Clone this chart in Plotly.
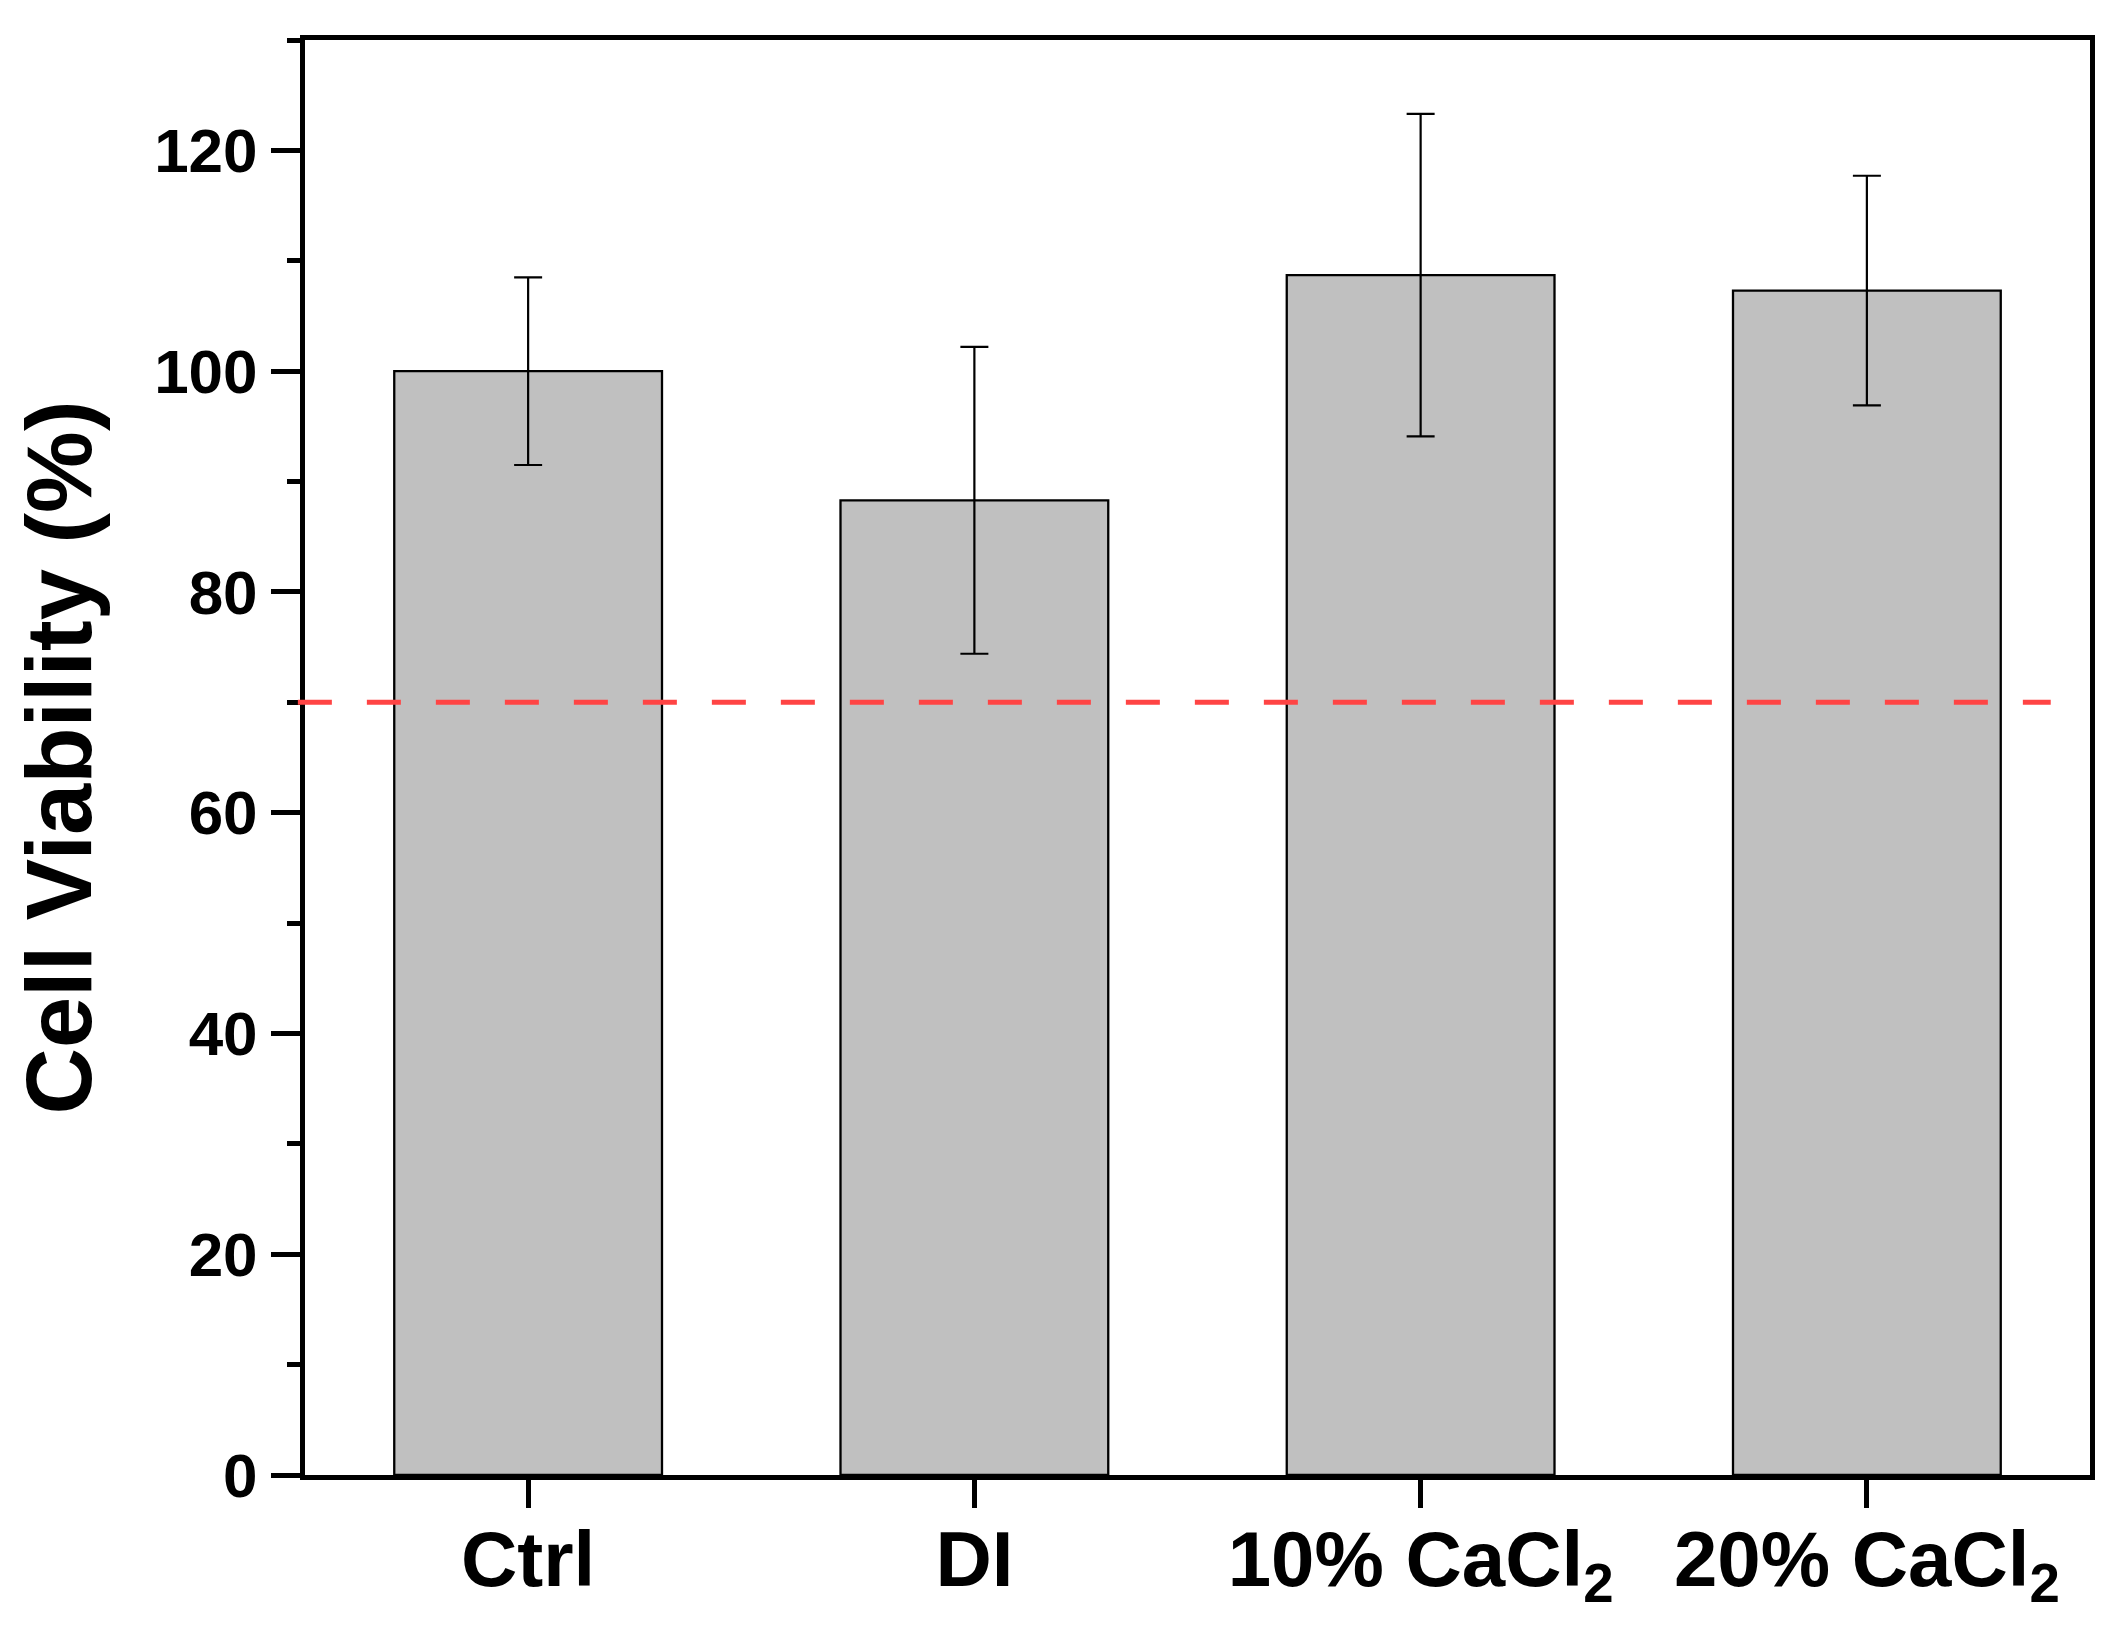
import plotly.graph_objects as go

categories = ["Ctrl", "DI", "10% CaCl<sub>2</sub>", "20% CaCl<sub>2</sub>"]
viability = [100.0, 88.3, 108.7, 107.3]
errors = [8.5, 13.9, 14.6, 10.4]
threshold = 70
y_ticks = [0, 20, 40, 60, 80, 100, 120]

FONT = "Liberation Sans, Arial, sans-serif"

fig = go.Figure()
fig.add_trace(go.Bar(
    x=list(range(len(categories))),
    y=viability,
    width=0.6,
    marker=dict(color="#c0c0c0", line=dict(color="black", width=2.3)),
    error_y=dict(type="data", array=errors, visible=True,
                 color="black", thickness=2.2, width=14),
    showlegend=False,
))

fig.add_shape(type="line", xref="paper", yref="y",
              x0=-0.004, x1=0.978, y0=threshold, y1=threshold,
              line=dict(color="#ff4444", width=5, dash="34px,35px"),
              layer="above")

fig.update_layout(
    width=2114, height=1640,
    margin=dict(l=297, r=32, t=32, b=173, autoexpand=False),
    paper_bgcolor="white", plot_bgcolor="white",
    font=dict(family=FONT, color="black"),
    bargap=0.4,
)

fig.update_xaxes(
    range=[-0.5, 3.5],
    tickmode="array",
    tickvals=list(range(len(categories))),
    ticktext=categories,
    tickfont=dict(family=FONT, size=78, weight="bold", color="black"),
    ticks="outside", ticklen=28, tickwidth=5, tickcolor="black",
    ticklabelstandoff=-16,
    showline=True, linewidth=5, linecolor="black", mirror=True,
    showgrid=False, zeroline=False,
)

fig.update_yaxes(
    range=[0, 130],
    tickmode="array",
    tickvals=y_ticks,
    ticktext=[str(v) for v in y_ticks],
    tickfont=dict(family=FONT, size=62, weight="bold", color="black"),
    ticks="outside", ticklen=29, tickwidth=5, tickcolor="black",
    ticklabelstandoff=1,
    minor=dict(tickmode="linear", tick0=10, dtick=20, ticks="outside",
               ticklen=13, tickwidth=5, tickcolor="black", showgrid=False),
    showline=True, linewidth=5, linecolor="black", mirror=True,
    showgrid=False, zeroline=False,
    title=dict(text="Cell Viability (%)", standoff=40,
               font=dict(family=FONT, size=92, weight="bold", color="black")),
)

fig.write_html("out.html")
